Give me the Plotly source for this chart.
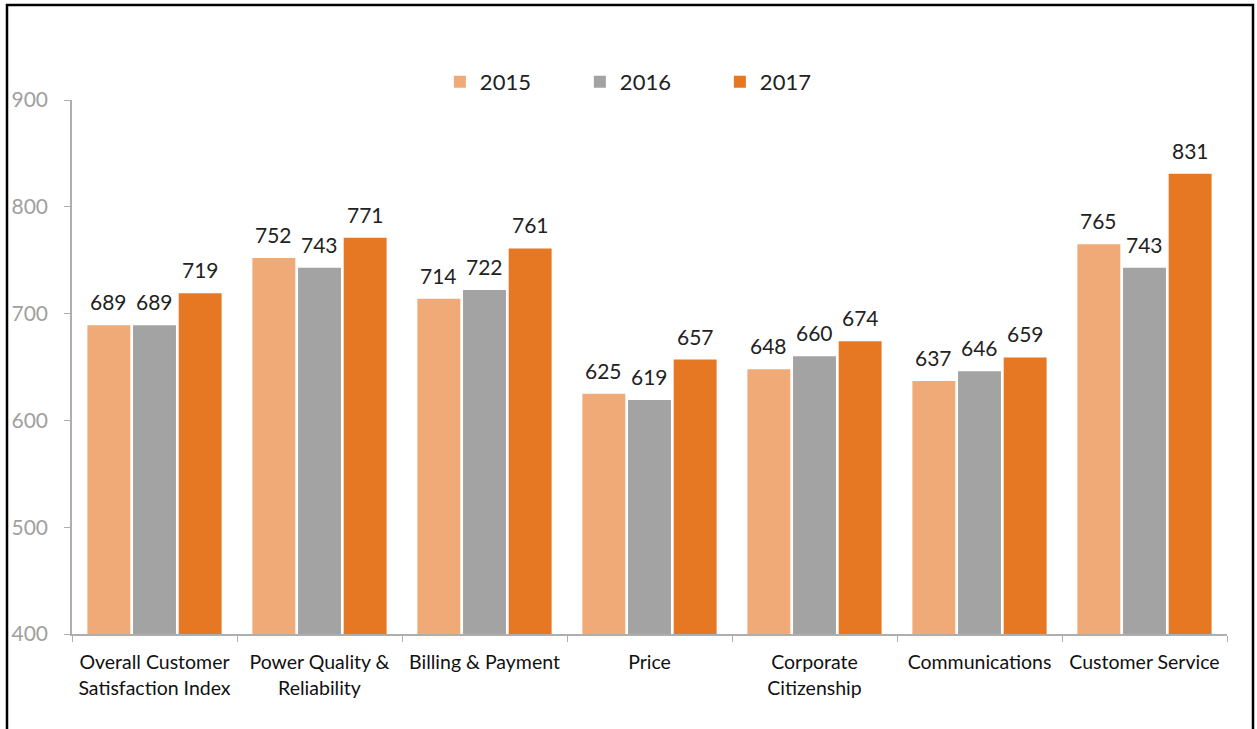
import plotly.graph_objects as go

categories = ["Overall Customer<br>Satisfaction Index", "Power Quality &<br>Reliability",
              "Billing & Payment", "Price", "Corporate<br>Citizenship",
              "Communications", "Customer Service"]
years = ["2015", "2016", "2017"]
v2015 = [689, 752, 714, 625, 648, 637, 765]
v2016 = [689, 743, 722, 619, 660, 646, 743]
v2017 = [719, 771, 761, 657, 674, 659, 831]
colors = ["#EFAA78", "#A3A3A3", "#E77823"]

font = "Lato, 'Open Sans', sans-serif"
W, H = 1257, 729
ML, MR, MT, MB = 72, 30, 100, 95
BARGAP = 0.17
fig = go.Figure()
series = [v2015, v2016, v2017]
for name, vals, c in zip(years, series, colors):
    fig.add_trace(go.Bar(
        x=categories, y=vals, name=name,
        marker=dict(color=c, line=dict(width=0)),
        cliponaxis=False,
    ))

# value labels placed above each bar via annotations in data coordinates
cat_px = (W - ML - MR) / len(categories)
slot = cat_px * (1 - BARGAP) / len(series)
for i, vals in enumerate(series):
    for cat, v in zip(categories, vals):
        fig.add_annotation(x=cat, y=v, text=str(v), showarrow=False,
                           xshift=(i - 1) * slot, yshift=9, yanchor="bottom",
                           font=dict(size=21, color="#222222", family=font))

fig.update_layout(
    width=W, height=H,
    barmode="group", bargap=BARGAP, bargroupgap=0.06,
    plot_bgcolor="white", paper_bgcolor="white",
    margin=dict(l=ML, r=MR, t=MT, b=MB, autoexpand=False),
    font=dict(family=font),
    showlegend=True,
    legend=dict(orientation="h", xref="container", yref="container",
                x=0.517, xanchor="center", y=1 - 82 / H, yanchor="middle",
                font=dict(size=22, color="#222222"), entrywidth=95,
                entrywidthmode="pixels"),
)
fig.update_yaxes(range=[400, 900], dtick=100, showgrid=False, zeroline=False,
                 showline=True, linecolor="#AEAEAE", linewidth=1.5, automargin=False,
                 ticks="outside", ticklen=6, tickcolor="#AEAEAE",
                 tickfont=dict(size=21, color="#A0A0A0"), ticklabelstandoff=12)
fig.update_xaxes(showgrid=False, showline=True, linecolor="#AEAEAE", linewidth=1.5,
                 automargin=False, ticklabelstandoff=10,
                 ticks="outside", tickson="boundaries", ticklen=6, tickcolor="#AEAEAE",
                 tickfont=dict(size=19.5, color="#111111"))
fig.add_shape(type="rect", xref="paper", yref="paper",
              x0=(7 - ML) / (W - ML - MR), x1=(1253 - ML) / (W - ML - MR),
              y0=-0.25, y1=(H - MB - 5) / (H - MT - MB),
              line=dict(color="black", width=2.5), fillcolor="rgba(0,0,0,0)", layer="above")
fig.write_html("out.html", config={"displayModeBar": False},
               post_script="document.body.style.margin='0';")
